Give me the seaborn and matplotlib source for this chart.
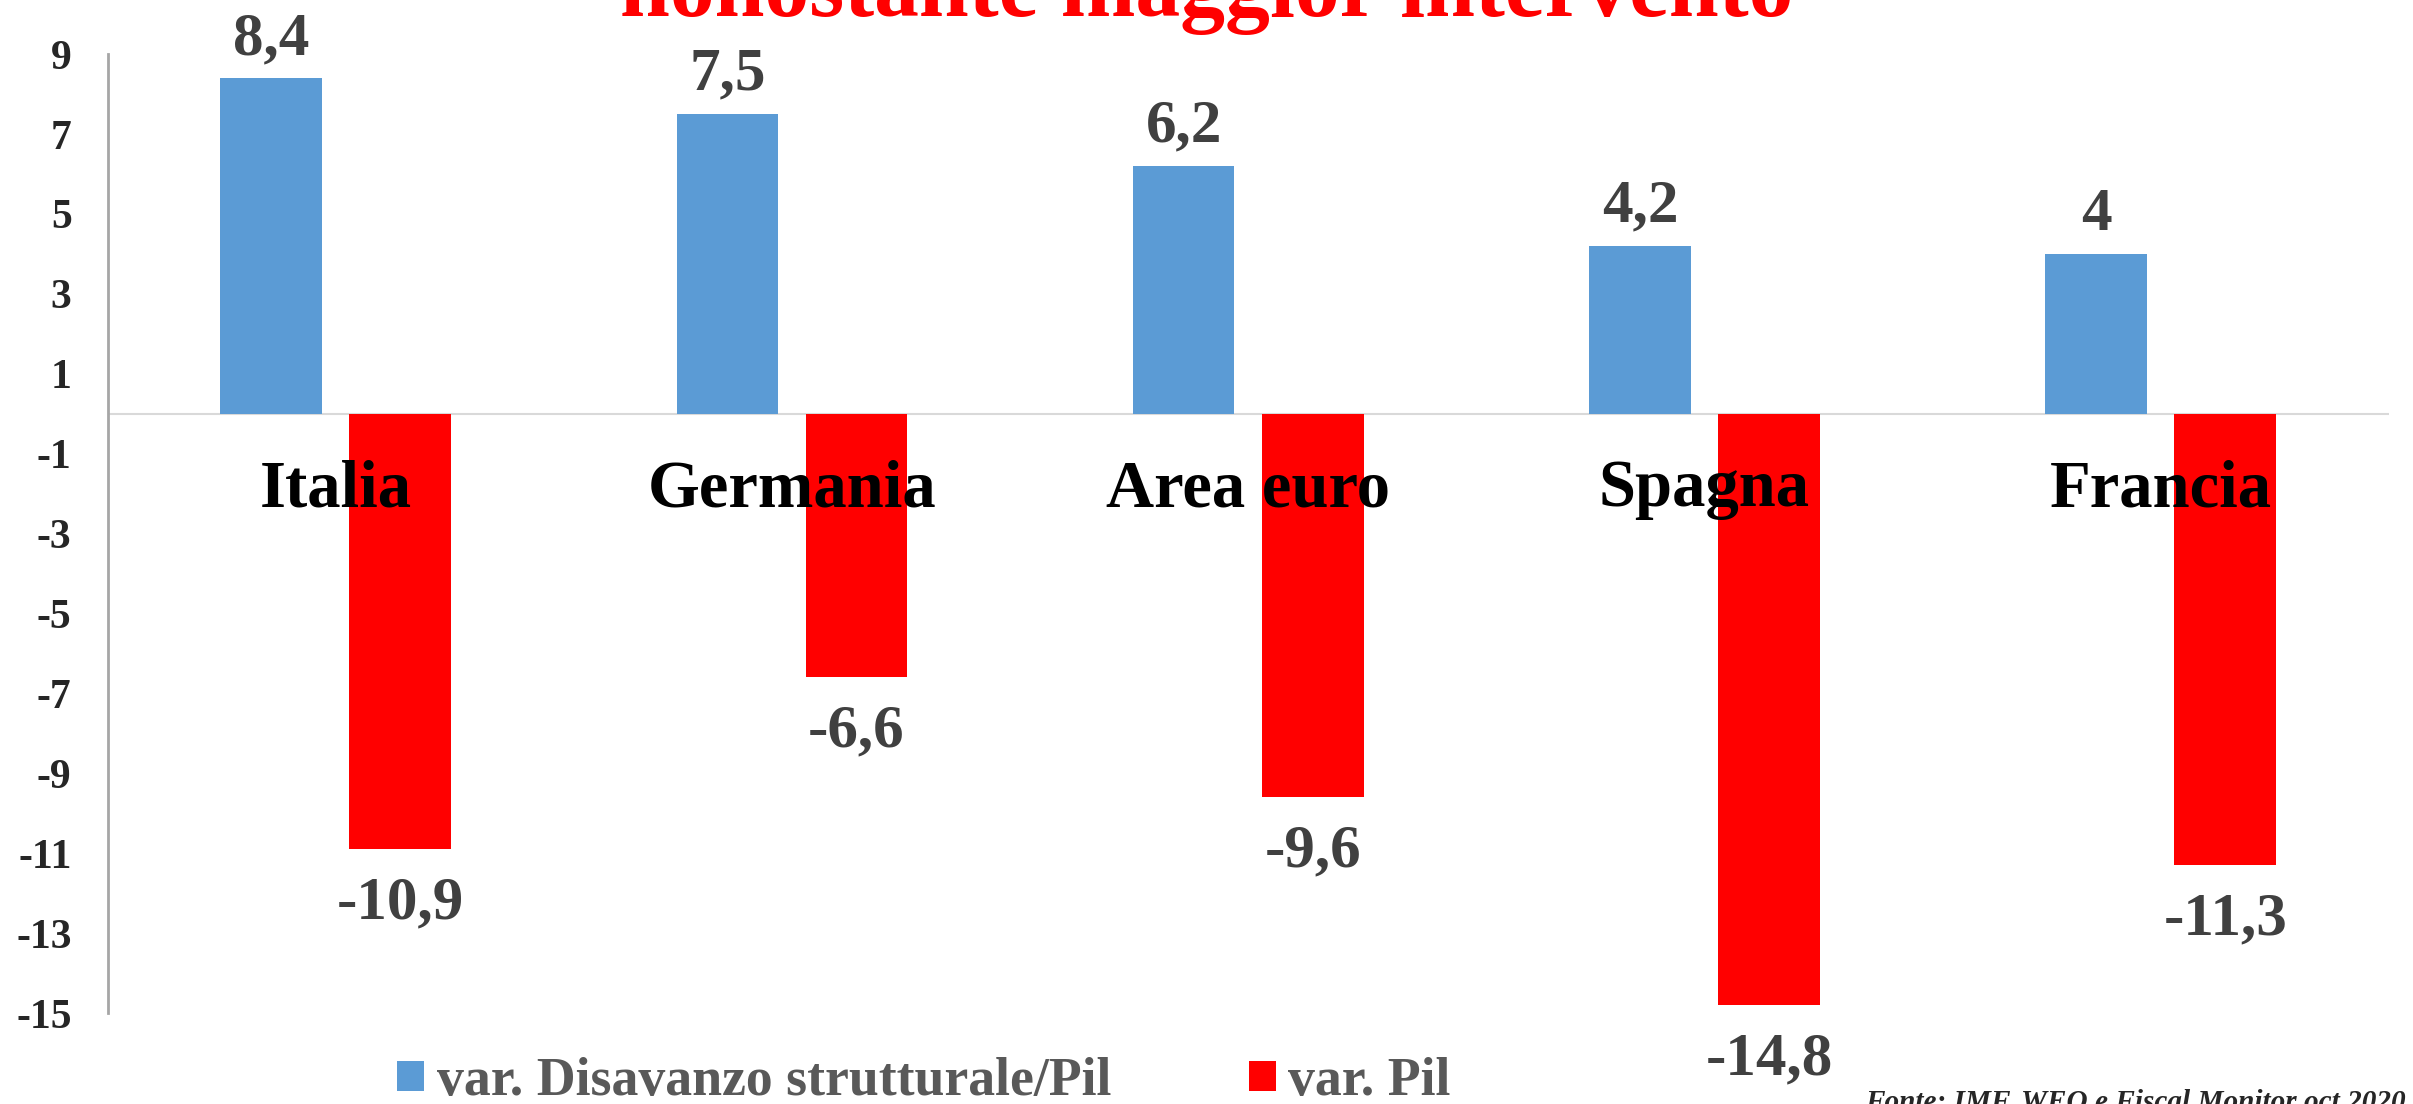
import matplotlib
matplotlib.use("Agg")
import matplotlib.pyplot as plt
import pandas as pd
import seaborn as sns

# Data
paesi = ["Italia", "Germania", "Area euro", "Spagna", "Francia"]
disavanzo = [8.4, 7.5, 6.2, 4.2, 4.0]
pil = [-10.9, -6.6, -9.6, -14.8, -11.3]
serie = ["var. Disavanzo strutturale/Pil", "var. Pil"]
colori = ["#5B9BD5", "#FF0000"]
y_ticks = [9, 7, 5, 3, 1, -1, -3, -5, -7, -9, -11, -13, -15]

df = pd.DataFrame({"Paese": paesi, serie[0]: disavanzo, serie[1]: pil})
long_df = df.melt(id_vars="Paese", var_name="Serie", value_name="Valore")

sns.set_theme(style="white")
plt.rcParams["font.family"] = ["Liberation Serif", "DejaVu Serif"]
plt.rcParams["font.weight"] = "bold"

fig = plt.figure(figsize=(24.13, 11.04), dpi=100)
ax = fig.add_axes([0.0446, 0.0824, 0.9454, 0.8686])

sns.barplot(data=long_df, x="Paese", y="Valore", hue="Serie",
            order=paesi, hue_order=serie, palette=colori,
            width=0.566, gap=0.213, saturation=1, linewidth=0, ax=ax)

ax.set_ylim(-15, 9)
ax.set_xlim(-0.5, 4.5)
ax.set_yticks(y_ticks)
ax.set_yticklabels([str(t) for t in y_ticks], fontsize=30, fontweight="bold")
ax.tick_params(axis="y", length=0, pad=26)
ax.set_xticks([])
ax.set_xlabel("")
ax.set_ylabel("")
for s in ["top", "right", "bottom"]:
    ax.spines[s].set_visible(False)
ax.spines["left"].set_color("#A6A6A6")
ax.spines["left"].set_linewidth(2)
ax.axhline(0, color="#D9D9D9", lw=1.5, zorder=0)

# value labels with comma decimals
fmt = lambda v: (f"{v:.1f}".rstrip("0").rstrip(".")).replace(".", ",")
ax.bar_label(ax.containers[0], labels=[fmt(v) for v in disavanzo],
             padding=8, fontsize=44, fontweight="bold", color="#404040")
ax.bar_label(ax.containers[1], labels=[fmt(v) for v in pil],
             padding=19, fontsize=44, fontweight="bold", color="#404040")

# category names inside the plot
for i, p in enumerate(paesi):
    ax.text(i, -1.9, p, ha="center", va="center", fontsize=48,
            fontweight="bold", color="black")

# legend at the bottom
handles, labels = ax.get_legend_handles_labels()
ax.get_legend().remove()
fig.legend(handles, labels, loc="center", bbox_to_anchor=(0.383, 0.02),
           ncol=2, frameon=False, fontsize=38.7, labelcolor="#595959",
           handlelength=0.5, handleheight=0.5, handletextpad=0.24,
           columnspacing=2.55)

# title (partly cut off at top) and source
fig.text(0.5, 1 - 16 / 1104, "nonostante maggior intervento", ha="center",
         va="baseline", fontsize=64.5, fontweight="bold", color="#FF0000")
fig.text(0.997, 1 - 1088 / 1104, "Fonte: IMF, WEO e Fiscal Monitor oct 2020",
         ha="right", va="top", fontsize=21.1, fontweight="bold",
         fontstyle="italic", color="#262626")

fig.savefig("out.png", dpi=100)
